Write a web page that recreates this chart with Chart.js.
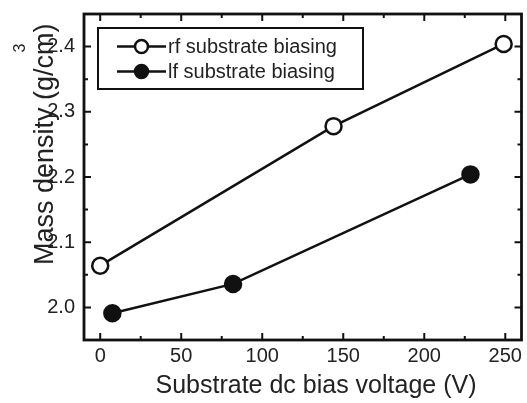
<!DOCTYPE html>
<html>
<head>
<meta charset="utf-8">
<script src="https://cdn.jsdelivr.net/npm/chart.js@4/dist/chart.umd.min.js"></script>
<style>
html,body{margin:0;padding:0;background:#fff;overflow:hidden;}
#wrap{width:527px;height:403px;overflow:hidden;position:relative;}
canvas{display:block;}
</style>
</head>
<body>
<div id="wrap"><canvas id="c" width="532" height="403"></canvas></div>
<script>
// Data
const voltageRf = [0, 144, 249];
const densityRf = [2.064, 2.278, 2.404];
const voltageLf = [7.5, 82, 228.5];
const densityLf = [1.991, 2.036, 2.204];
const seriesLabels = ['rf substrate biasing', 'lf substrate biasing'];
const xTicks = [0, 50, 100, 150, 200, 250];
const xMinorTicks = [25, 75, 125, 175, 225];
const yTicks = [2.0, 2.1, 2.2, 2.3, 2.4];
const yMinorTicks = [2.05, 2.15, 2.25, 2.35];
const xTitle = 'Substrate dc bias voltage (V)';
const yTitle = 'Mass density (g/cm)';
const yTitleSup = '3';

const INK = '#111';
const TXT = '#222';
const FONT = '"Liberation Sans", Arial, Helvetica, sans-serif';

const framePlugin = {
  id: 'frame',
  afterDraw(chart) {
    const ctx = chart.ctx;
    const a = chart.chartArea;
    const xs = chart.scales.x, ys = chart.scales.y;
    ctx.save();
    ctx.strokeStyle = INK;
    ctx.lineWidth = 2.8;
    ctx.strokeRect(a.left, a.top, a.right - a.left, a.bottom - a.top);
    ctx.lineWidth = 2;
    ctx.beginPath();
    const tick = (vals, len) => {
      vals.forEach(v => {
        const px = xs.getPixelForValue(v);
        ctx.moveTo(px, a.bottom); ctx.lineTo(px, a.bottom - len);
        ctx.moveTo(px, a.top); ctx.lineTo(px, a.top + len);
      });
    };
    const ytick = (vals, len) => {
      vals.forEach(v => {
        const py = ys.getPixelForValue(v);
        ctx.moveTo(a.left, py); ctx.lineTo(a.left + len, py);
        ctx.moveTo(a.right, py); ctx.lineTo(a.right - len, py);
      });
    };
    tick(xTicks, 7); tick(xMinorTicks, 4);
    ytick(yTicks, 7); ytick(yMinorTicks, 4);
    ctx.stroke();

    // axis titles
    ctx.fillStyle = TXT;
    ctx.font = '25px ' + FONT;
    ctx.textAlign = 'center';
    ctx.textBaseline = 'middle';
    ctx.fillText(xTitle, 316, 386);

    ctx.save();
    ctx.translate(53, 265);
    ctx.rotate(-Math.PI / 2);
    ctx.font = '27px ' + FONT;
    ctx.textAlign = 'left';
    ctx.textBaseline = 'alphabetic';
    ctx.fillText(yTitle, 0, 0);
    ctx.restore();

    ctx.save();
    ctx.translate(25, 48);
    ctx.rotate(-Math.PI / 2);
    ctx.font = '16px ' + FONT;
    ctx.textAlign = 'center';
    ctx.textBaseline = 'alphabetic';
    ctx.fillText(yTitleSup, 0, 0);
    ctx.restore();

    // legend
    const bx = 98, by = 28, bw = 265, bh = 61;
    ctx.fillStyle = '#fff';
    ctx.fillRect(bx, by, bw, bh);
    ctx.strokeStyle = INK;
    ctx.lineWidth = 2;
    ctx.strokeRect(bx, by, bw, bh);
    const rows = [46.5, 71.5];
    chart.data.datasets.forEach((ds, i) => {
      const y = rows[i];
      ctx.strokeStyle = INK;
      ctx.lineWidth = 2.5;
      ctx.beginPath();
      ctx.moveTo(117, y); ctx.lineTo(166, y);
      ctx.stroke();
      ctx.beginPath();
      ctx.arc(141.5, y, 6.5, 0, Math.PI * 2);
      ctx.fillStyle = ds.pointBackgroundColor;
      ctx.fill();
      ctx.lineWidth = 2.5;
      ctx.stroke();
      ctx.fillStyle = TXT;
      ctx.font = '20px ' + FONT;
      ctx.textAlign = 'left';
      ctx.textBaseline = 'middle';
      ctx.fillText(ds.label, 168, y + 1);
    });
    ctx.restore();
  }
};

new Chart(document.getElementById('c'), {
  type: 'line',
  data: {
    datasets: [
      {
        label: seriesLabels[0],
        data: voltageRf.map((v, i) => ({x: v, y: densityRf[i]})),
        borderColor: INK, borderWidth: 2.5,
        pointRadius: 8, pointBorderWidth: 2.5,
        pointBackgroundColor: '#fff', pointBorderColor: INK,
        clip: false
      },
      {
        label: seriesLabels[1],
        data: voltageLf.map((v, i) => ({x: v, y: densityLf[i]})),
        borderColor: INK, borderWidth: 2.5,
        pointRadius: 8, pointBorderWidth: 2.5,
        pointBackgroundColor: INK, pointBorderColor: INK,
        clip: false
      }
    ]
  },
  options: {
    responsive: false,
    animation: false,
    events: [],
    layout: { padding: { top: 14, right: 2, left: 0, bottom: 0 } },
    plugins: { legend: { display: false }, tooltip: { enabled: false } },
    scales: {
      x: {
        type: 'linear', min: -10, max: 260,
        afterBuildTicks: s => { s.ticks = xTicks.map(v => ({value: v})); },
        afterFit: s => { s.height = 63; s.paddingLeft = 0; s.paddingRight = 0; },
        grid: { display: false, drawTicks: false },
        border: { display: false },
        ticks: { color: TXT, font: { size: 20, family: FONT }, padding: 4, maxRotation: 0, autoSkip: false,
                 callback: v => String(v) }
      },
      y: {
        type: 'linear', min: 1.95, max: 2.45,
        afterBuildTicks: s => { s.ticks = yTicks.map(v => ({value: v})); },
        afterFit: s => { s.width = 84; s.paddingTop = 0; s.paddingBottom = 0; },
        grid: { display: false, drawTicks: false },
        border: { display: false },
        ticks: { color: TXT, font: { size: 20, family: FONT }, padding: 9, autoSkip: false,
                 callback: v => Number(v).toFixed(1) }
      }
    }
  },
  plugins: [framePlugin]
});
</script>
</body>
</html>
